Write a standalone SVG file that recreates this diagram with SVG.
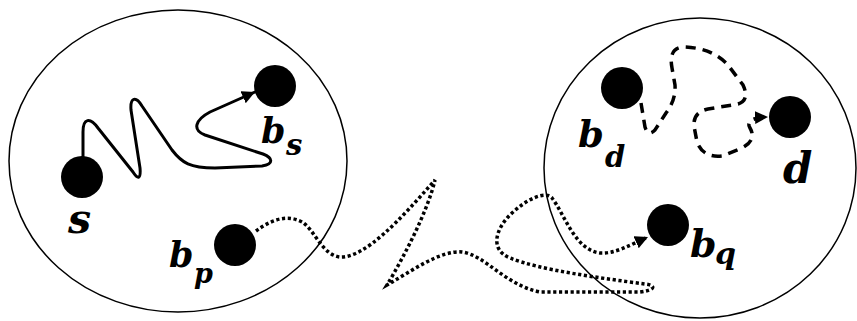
<svg xmlns="http://www.w3.org/2000/svg" width="857" height="321" viewBox="0 0 857 321">
<style>
.region{fill:none;stroke:#000;stroke-width:1.5}
.node{fill:#000}
.lbl{font-family:"DejaVu Serif","Liberation Serif",serif;font-weight:bold;font-style:italic;fill:#000}
.solid{fill:none;stroke:#000;stroke-width:3;stroke-linecap:round;stroke-linejoin:round}
.dashed{fill:none;stroke:#000;stroke-width:3.5;stroke-dasharray:10 7}
.dotted{fill:none;stroke:#000;stroke-width:3.5;stroke-dasharray:3.2 2.6}
</style>
<defs>
<marker id="arr" viewBox="0 0 10 10" refX="10" refY="5" markerWidth="13" markerHeight="13" markerUnits="userSpaceOnUse" orient="auto">
<path d="M0,0 L10,5 L0,10 z" fill="#000" stroke="none"/>
</marker>
</defs>
<g id="regions">
<ellipse class="region" cx="178" cy="161" rx="169" ry="151"/>
<ellipse class="region" cx="700" cy="168" rx="156" ry="150"/>
</g>
<g id="connectors">
<path class="solid" marker-end="url(#arr)" d="M83 157 L83 132 C83 118 90 117 98 128 L133 172 C138 180 141 179 140 168 L131 110 C130 97 136 96 142 106 L172 150 C182 163 190 168 215 168 L262 166 C274 164 273 158 263 154 L205 135 C192 130 195 120 210 112 L255 92"/>
<path class="dashed" marker-end="url(#arr)" d="M641 103 L645 127 Q648 137 655 130 L666 113 Q676 100 675 85 L672 68 Q668 47 685 47 Q712 48 728 65 L743 85 Q750 100 738 104 L708 109 Q693 112 694 126 L697 142 Q703 158 722 156 L742 148 Q757 140 750 128 Q744 118 768 117"/>
<path class="dotted" marker-end="url(#arr)" d="M256 231 C268 222 285 213 302 222 C315 230 322 255 340 257 C365 258 400 220 435 180 C428 210 405 255 387 285 C410 272 440 250 462 252 C485 255 505 285 540 292 L640 292 C656 290 656 285 645 284 C600 278 540 270 510 258 C490 250 495 230 510 215 C525 200 545 190 552 198 C565 215 575 250 600 253 C615 254 630 245 648 237"/>
</g>
<g id="node-s">
<circle class="node" cx="82" cy="177" r="21"/>
<text class="lbl" x="68" y="233" font-size="41">s</text>
</g>
<g id="node-bs">
<circle class="node" cx="275" cy="86" r="21"/>
<text class="lbl" x="261" y="143" font-size="35">b</text>
<text class="lbl" x="286" y="155" font-size="29">s</text>
</g>
<g id="node-bp">
<circle class="node" cx="235" cy="245" r="21"/>
<text class="lbl" x="169" y="267" font-size="35">b</text>
<text class="lbl" x="194" y="283" font-size="27">p</text>
</g>
<g id="node-bd">
<circle class="node" cx="622" cy="88" r="21"/>
<text class="lbl" x="578" y="147" font-size="37">b</text>
<text class="lbl" x="605" y="167" font-size="29">d</text>
</g>
<g id="node-d">
<circle class="node" cx="790" cy="117" r="21"/>
<text class="lbl" x="783" y="183" font-size="42">d</text>
</g>
<g id="node-bq">
<circle class="node" cx="668" cy="225" r="21"/>
<text class="lbl" x="690" y="257" font-size="38">b</text>
<text class="lbl" x="715" y="264" font-size="30">q</text>
</g>
</svg>
